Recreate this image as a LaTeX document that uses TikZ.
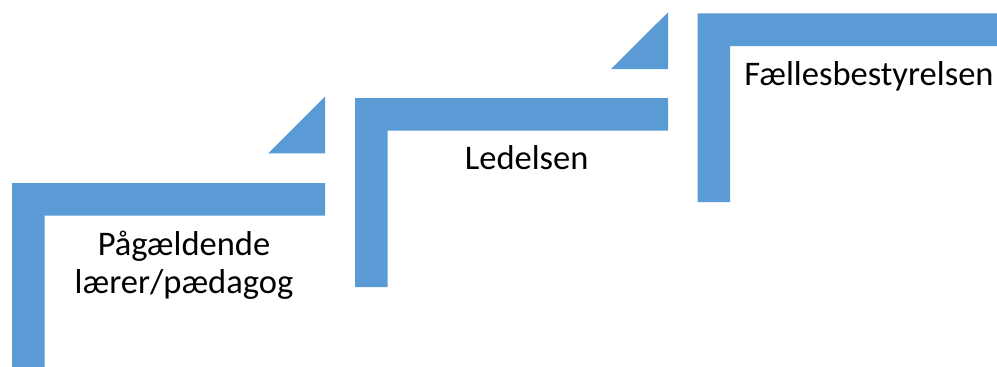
\documentclass[tikz,border=0pt]{standalone}
\usepackage{fontspec}
\setmainfont{Carlito}
\usepackage{tikz}
\usetikzlibrary{positioning,calc}
\definecolor{stepblue}{HTML}{5B9BD5}

\begin{document}
\begin{tikzpicture}[x=1pt,y=-1pt,line width=0pt,
    stepfill/.style={fill=stepblue},
    steptext/.style={font=\fontsize{34.5}{38}\selectfont,anchor=base,inner sep=0pt}]

      \useasboundingbox (0,0) rectangle (997,367);

      \fill[stepfill] (12,367) -- (12,183) -- (325,183) -- (325,215.5) -- (44.7,215.5) -- (44.7,367) -- cycle;
      \fill[stepfill] (355,287) -- (355,98) -- (668,98) -- (668,130.5) -- (387.5,130.5) -- (387.5,287) -- cycle;
      \fill[stepfill] (697.5,202) -- (697.5,13.3) -- (997,13.3) -- (997,46) -- (730,46) -- (730,202) -- cycle;

      \fill[stepfill] (268.3,153.3) -- (325,153.3) -- (325,96.7) -- cycle;
      \fill[stepfill] (611,69) -- (668,69) -- (668,12.3) -- cycle;

      \path (184,255) node[steptext] (s1a) {Pågældende};
      \path (184,293) node[steptext] (s1b) {lærer/pædagog};
      \path (526.7,169.3) node[steptext] (s2) {Ledelsen};
      \path (869,85) node[steptext] (s3) {Fællesbestyrelsen};

    \end{tikzpicture}
\end{document}
